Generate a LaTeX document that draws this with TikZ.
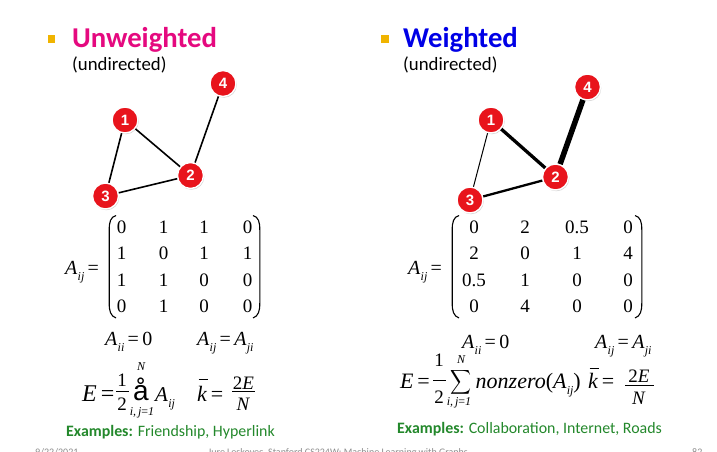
\documentclass[tikz,border=0pt]{standalone}
\usepackage{fontspec}
\setmainfont{Liberation Serif}
\newfontfamily\carlito{Carlito}
\newfontfamily\arialf{Liberation Sans}
\usetikzlibrary{shadows}
\definecolor{magc}{HTML}{E5097F}
\definecolor{bluec}{HTML}{0000E6}
\definecolor{bulc}{HTML}{F0B400}
\definecolor{nodec}{HTML}{E8141C}
\definecolor{grn}{HTML}{23882B}
\definecolor{footc}{HTML}{8C8C8C}
\newcommand\fs[1]{\fontsize{#1}{#1}\selectfont}
\newcommand\Asub[1]{\textit{A}\kern0.2pt\raisebox{-0.3em}{\fs{12}\itshape #1}}
\begin{document}
\begin{tikzpicture}[x=1pt,y=-1pt,
  gnode/.style={circle, fill=nodec, draw=white, line width=1.4pt, minimum size=26pt, inner sep=0pt,
    text=white, font=\arialf\bfseries\fs{15}, drop shadow={opacity=0.35, shadow xshift=0.8pt, shadow yshift=-1.2pt}},
  edge/.style={line width=1.6pt, black},
  ment/.style={inner sep=0pt, font=\fs{19}},
  paren/.style={line width=1.1pt},
  heading/.style={anchor=base west, inner sep=0pt, font=\carlito\bfseries\fs{28.7}},
  sub/.style={anchor=base west, inner sep=0pt, font=\carlito\fs{18.8}},
  eq/.style={inner sep=0pt, font=\fs{20}},
  bigeq/.style={inner sep=0pt, font=\fs{22}},
  small/.style={inner sep=0pt, font=\fs{12}\itshape},
  examples/.style={anchor=base west, inner sep=0pt, text=grn, font=\carlito\fs{15.9}},
  footer/.style={anchor=base west, inner sep=0pt, text=footc, font=\carlito\fs{10}},
  bullet/.style={fill=bulc}]
\fill[white] (0,0) rectangle (717,452);
\clip (0,0) rectangle (717,452);

% ---------- headings ----------
\fill[bullet] (47.5,35.5) rectangle (55,43);
\node[heading, text=magc] (hl) at (72,47.5) {Unweighted};
\node[sub] (ul) at (72,70.5) {(undirected)};
\fill[bullet] (381,35.5) rectangle (388.5,43);
\node[heading, text=bluec] (hr) at (403,47.5) {Weighted};
\node[sub] (ur) at (403,70.5) {(undirected)};

% ---------- left graph ----------
\node[gnode] (a1) at (125,120) {1};
\node[gnode] (a2) at (190.5,175.5) {2};
\node[gnode] (a3) at (105.5,196) {3};
\node[gnode] (a4) at (223,83.5) {4};
\draw[edge] (a1) -- (a2);
\draw[edge] (a1) -- (a3);
\draw[edge] (a2) -- (a3);
\draw[edge] (a2) -- (a4);

% ---------- right graph ----------
\node[gnode] (b1) at (491,120) {1};
\node[gnode] (b2) at (555.5,177) {2};
\node[gnode] (b3) at (470,200) {3};
\node[gnode] (b4) at (587.5,87) {4};
\draw[line width=1pt] (b1) -- (b3);
\draw[line width=2.3pt] (b2) -- (b3);
\draw[line width=3.3pt] (b1) -- (b2);
\draw[line width=5.5pt] (b2) -- (b4);

% ---------- left matrix ----------
\node[anchor=base west, eq] (la) at (65,274.5) {\Asub{ij}\,=};
\draw[paren] (116,215.5) .. controls (110.5,217) and (109.2,222) .. (109.2,230) -- (109.2,303)
  .. controls (109.2,311) and (110.5,316) .. (116,318);
\draw[paren] (253,215.5) .. controls (258.5,217) and (259.8,222) .. (259.8,230) -- (259.8,303)
  .. controls (259.8,311) and (258.5,316) .. (253,318);
\foreach \y/\r/\a/\b/\c/\d in {227/1/0/1/1/0, 253.5/2/1/0/1/1, 280/3/1/1/0/0, 306.5/4/0/1/0/0} {
  \node[ment] (L\r1) at (121.5,\y) {\a};
  \node[ment] (L\r2) at (163.5,\y) {\b};
  \node[ment] (L\r3) at (204,\y) {\c};
  \node[ment] (L\r4) at (247.5,\y) {\d};
}

% ---------- right matrix ----------
\node[anchor=base west, eq] (ra) at (408,274.5) {\Asub{ij}\,=};
\draw[paren] (459,215.5) .. controls (453.5,217) and (452.2,222) .. (452.2,230) -- (452.2,303)
  .. controls (452.2,311) and (453.5,316) .. (459,318);
\draw[paren] (635,215.5) .. controls (640.5,217) and (641.8,222) .. (641.8,230) -- (641.8,303)
  .. controls (641.8,311) and (640.5,316) .. (635,318);
\foreach \y/\r/\a/\b/\c/\d in {227/1/0/2/0.5/0, 253.5/2/2/0/1/4, 280/3/0.5/1/0/0, 306.5/4/0/4/0/0} {
  \node[ment] (R\r1) at (474,\y) {\a};
  \node[ment] (R\r2) at (525,\y) {\b};
  \node[ment] (R\r3) at (577,\y) {\c};
  \node[ment] (R\r4) at (628,\y) {\d};
}

% ---------- left equations ----------
\node[anchor=base west, eq] (le1) at (105,345) {\Asub{ii}\,=\,0};
\node[anchor=base west, eq] (le2) at (197,345) {\Asub{ij}\,=\,\Asub{ji}};
\node[anchor=base west, bigeq, font=\fs{24}] (lE) at (82,401) {\textit{E}\,=};
\node[eq, font=\fs{19}] (lf1) at (122,380) {1};
\draw[line width=0.8pt] (116,391) -- (128.5,391);
\node[eq, font=\fs{19}] (lf2) at (122,404) {2};
\node[inner sep=0pt, font=\arialf\fs{28}] (lsum) at (141,389) {å};
\node[small] (lN) at (141,367) {N};
\node[small] (lij) at (142,413) {i,\,j\textup{=}1};
\node[anchor=base west, inner sep=0pt, font=\fs{21}] (lA) at (155,401) {\Asub{ij}};
\node[anchor=base west, bigeq] (lk) at (197,401) {\textit{k}\,=};
\draw[line width=0.8pt] (198.5,379.5) -- (208,379.5);
\node[eq, font=\fs{19}] (lk1) at (243.5,383) {2\textit{E}};
\draw[line width=0.8pt] (232,391) -- (255,391);
\node[eq, font=\fs{19}] (lk2) at (243.5,404) {\textit{N}};

% ---------- right equations ----------
\node[anchor=base west, eq] (re1) at (462,348) {\Asub{ii}\,=\,0};
\node[anchor=base west, eq] (re2) at (595,348) {\Asub{ij}\,=\,\Asub{ji}};
\node[anchor=base west, bigeq] (rE) at (400,388) {\textit{E}\,=};
\node[eq, font=\fs{19}] (rf1) at (439,360) {1};
\draw[line width=0.8pt] (433,380.5) -- (446,380.5);
\node[eq, font=\fs{19}] (rf2) at (439,397) {2};
\node[inner sep=0pt] (rsum) at (461,382) {\scalebox{1.45}[1.7]{$\displaystyle\sum$}};
\node[small] (rN) at (461,360) {N};
\node[small] (rij) at (459,403) {i,\,j\textup{=}1};
\node[anchor=base west, bigeq] (rnz) at (475.5,388) {\textit{nonzero}(\Asub{ij})};
\node[anchor=base west, bigeq] (rk) at (588,388) {\textit{k}\,=};
\draw[line width=0.8pt] (589.5,368.5) -- (599,368.5);
\node[eq, font=\fs{19}] (rk1) at (639,376) {2\textit{E}};
\draw[line width=0.8pt] (625,385) -- (654,385);
\node[eq, font=\fs{19}] (rk2) at (639,398) {\textit{N}};

% ---------- examples ----------
\node[examples] (exl) at (66,436) {\textbf{Examples:} Friendship, Hyperlink};
\node[examples] (exr) at (397,433) {\textbf{Examples:} Collaboration, Internet, Roads};

% ---------- footer ----------
\node[footer] (fd) at (35,455.5) {9/22/2021};
\node[footer] (fa) at (208,455.5) {Jure Leskovec, Stanford CS224W: Machine Learning with Graphs};
\node[footer] (fp) at (692,455.5) {82};
\end{tikzpicture}
\end{document}
